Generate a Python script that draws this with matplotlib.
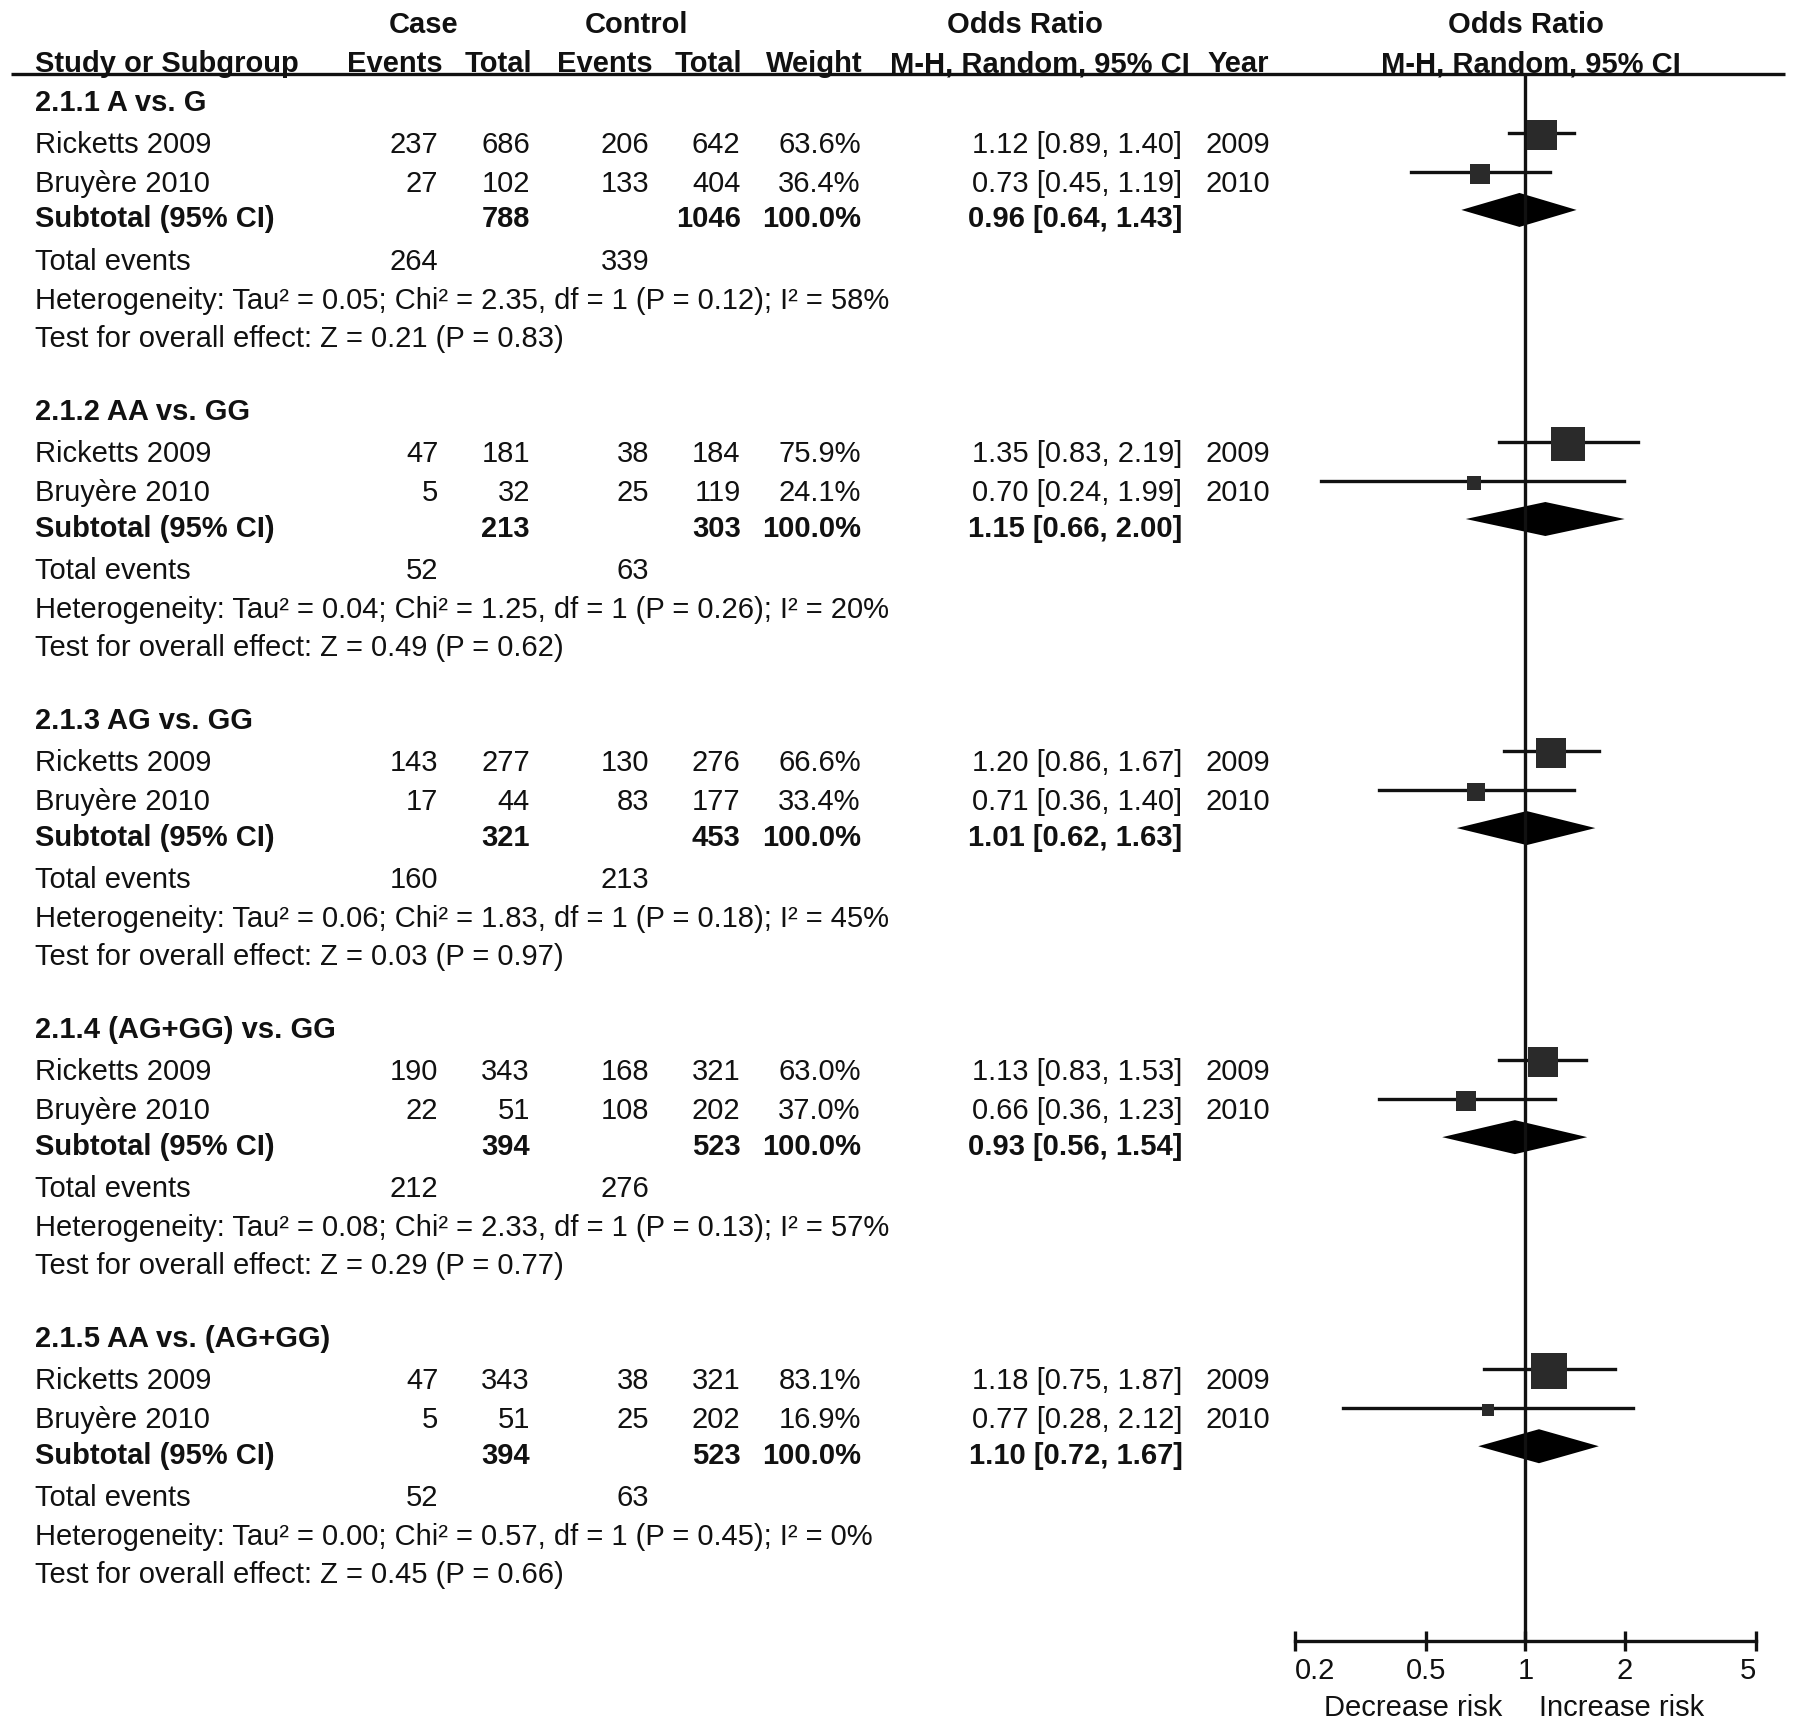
import matplotlib
matplotlib.use("Agg")
import matplotlib.pyplot as plt
import numpy as np

plt.rcParams['font.family'] = ['Liberation Sans', 'DejaVu Sans']

# data
groups = ['2.1.1 A vs. G', '2.1.2 AA vs. GG', '2.1.3 AG vs. GG',
          '2.1.4 (AG+GG) vs. GG', '2.1.5 AA vs. (AG+GG)']
studies = ['Ricketts 2009', 'Bruyère 2010']
years = [2009, 2010]
case_events = [[237, 27], [47, 5], [143, 17], [190, 22], [47, 5]]
case_total = [[686, 102], [181, 32], [277, 44], [343, 51], [343, 51]]
ctrl_events = [[206, 133], [38, 25], [130, 83], [168, 108], [38, 25]]
ctrl_total = [[642, 404], [184, 119], [276, 177], [321, 202], [321, 202]]
weights = [[63.6, 36.4], [75.9, 24.1], [66.6, 33.4], [63.0, 37.0], [83.1, 16.9]]
or_est = [[1.12, 0.73], [1.35, 0.70], [1.20, 0.71], [1.13, 0.66], [1.18, 0.77]]
or_lo = [[0.89, 0.45], [0.83, 0.24], [0.86, 0.36], [0.83, 0.36], [0.75, 0.28]]
or_hi = [[1.40, 1.19], [2.19, 1.99], [1.67, 1.40], [1.53, 1.23], [1.87, 2.12]]
sub_case_total = [788, 213, 321, 394, 394]
sub_ctrl_total = [1046, 303, 453, 523, 523]
sub_or = [0.96, 1.15, 1.01, 0.93, 1.10]
sub_lo = [0.64, 0.66, 0.62, 0.56, 0.72]
sub_hi = [1.43, 2.00, 1.63, 1.54, 1.67]
tot_case_events = [264, 52, 160, 212, 52]
tot_ctrl_events = [339, 63, 213, 276, 63]
tau2 = ['0.05', '0.04', '0.06', '0.08', '0.00']
chi2 = ['2.35', '1.25', '1.83', '2.33', '0.57']
het_p = ['0.12', '0.26', '0.18', '0.13', '0.45']
i2 = [58, 20, 45, 57, 0]
z_val = ['0.21', '0.49', '0.03', '0.29', '0.45']
z_p = ['0.83', '0.62', '0.97', '0.77', '0.66']
ticks = [0.2, 0.5, 1, 2, 5]
tick_labels = ['0.2', '0.5', '1', '2', '5']

W, H = 1795, 1729
S = 1.1447  # layout measured on a 1568 px wide view of the figure
fig = plt.figure(figsize=(W / 100, H / 100), dpi=100)
fs = 21
ink = '#111111'

# background axes in pixel units for the table text
bg = fig.add_axes([0, 0, 1, 1])
bg.set_xlim(0, W)
bg.set_ylim(H, 0)
bg.axis('off')

def txt(x, y, s, ha='left', bold=False):
    bg.text(x * S, y * S + 10, s, ha=ha, va='baseline', fontsize=fs,
            fontweight='bold' if bold else 'normal', color=ink)

# column positions
x_name = 31
x_ce, x_ct, x_oe, x_ot, x_w = 383, 463, 567, 647, 752
x_or, x_year = 1033, 1053
fx0, fx1 = 1131 * S, 1534 * S
y_rule, y_axis = 65 * S, 1641

# headers
for x, s in [(370, 'Case'), (556, 'Control'), (895, 'Odds Ratio'), (1333, 'Odds Ratio')]:
    txt(x, 20, s, ha='center', bold=True)
for x, s, ha in [(x_name, 'Study or Subgroup', 'left'), (345, 'Events', 'center'),
                 (435, 'Total', 'center'), (528, 'Events', 'center'),
                 (619, 'Total', 'center'), (711, 'Weight', 'center'),
                 (908, 'M-H, Random, 95% CI', 'center'), (1082, 'Year', 'center'),
                 (1337, 'M-H, Random, 95% CI', 'center')]:
    bg.text(x * S, y_rule - 2, s, ha=ha, va='baseline', fontsize=fs,
            fontweight='bold', color=ink)
bg.plot([10 * S, 1785], [y_rule, y_rule], color=ink, lw=2.4, solid_capstyle='butt')

# forest axes
ax = fig.add_axes([fx0 / W, 1 - y_axis / H, (fx1 - fx0) / W, (y_axis - y_rule) / H])
ax.set_xscale('log')
ax.set_xlim(0.2, 5)
ax.set_ylim(y_axis, y_rule)
ax.patch.set_alpha(0)
for sp in ['top', 'left', 'right']:
    ax.spines[sp].set_visible(False)
ax.spines['bottom'].set_linewidth(2.4)
ax.spines['bottom'].set_color(ink)
ax.set_yticks([])
ax.set_xticks(ticks)
ax.set_xticklabels(tick_labels)
ax.minorticks_off()
ax.tick_params(axis='x', direction='inout', length=14.4, width=2.4, pad=4,
               labelsize=fs, colors=ink)
labs = ax.get_xticklabels()
labs[0].set_ha('left')
labs[-1].set_ha('right')
ax.axvline(1, color=ink, lw=2.4)
ax.annotate('Decrease risk', xy=(1, 0), xycoords=('data', 'axes fraction'),
            xytext=(-16.5, -54), textcoords='offset points', ha='right', va='baseline',
            fontsize=fs, color=ink)
ax.annotate('Increase risk', xy=(1, 0), xycoords=('data', 'axes fraction'),
            xytext=(9.5, -54), textcoords='offset points', ha='left', va='baseline',
            fontsize=fs, color=ink)

offs = [0, 37, 71, 102, 139, 173, 206]
for g in range(len(groups)):
    y0 = 88 + g * 270
    txt(x_name, y0, groups[g], bold=True)
    for i in range(2):
        y = y0 + offs[1 + i]
        txt(x_name, y, studies[i])
        txt(x_ce, y, str(case_events[g][i]), ha='right')
        txt(x_ct, y, str(case_total[g][i]), ha='right')
        txt(x_oe, y, str(ctrl_events[g][i]), ha='right')
        txt(x_ot, y, str(ctrl_total[g][i]), ha='right')
        txt(x_w, y, f'{weights[g][i]:.1f}%', ha='right')
        txt(x_or, y, f'{or_est[g][i]:.2f} [{or_lo[g][i]:.2f}, {or_hi[g][i]:.2f}]', ha='right')
        txt(x_year, y, str(years[i]))
        yp = (y - 8.7) * S
        ax.plot([or_lo[g][i], or_hi[g][i]], [yp, yp], color=ink, lw=2.4)
        side = 5.7 + 0.373 * weights[g][i]  # square side in pixels
        ax.plot([or_est[g][i]], [yp + 2], marker='s', ms=side * 0.72,
                color='#2a2a2a', mec='#2a2a2a', mew=0)
    y = y0 + offs[3]
    txt(x_name, y, 'Subtotal (95% CI)', bold=True)
    txt(x_ct, y, str(sub_case_total[g]), ha='right', bold=True)
    txt(x_ot, y, str(sub_ctrl_total[g]), ha='right', bold=True)
    txt(x_w, y, '100.0%', ha='right', bold=True)
    txt(x_or, y, f'{sub_or[g]:.2f} [{sub_lo[g]:.2f}, {sub_hi[g]:.2f}]', ha='right', bold=True)
    yd = (y - 6.6) * S
    ax.fill([sub_lo[g], sub_or[g], sub_hi[g], sub_or[g]], [yd, yd - 17, yd, yd + 17],
            color='black', lw=0)
    y = y0 + offs[4]
    txt(x_name, y, 'Total events')
    txt(x_ce, y, str(tot_case_events[g]), ha='right')
    txt(x_oe, y, str(tot_ctrl_events[g]), ha='right')
    txt(x_name, y0 + offs[5],
        f'Heterogeneity: Tau² = {tau2[g]}; Chi² = {chi2[g]}, df = 1 (P = {het_p[g]}); I² = {i2[g]}%')
    txt(x_name, y0 + offs[6], f'Test for overall effect: Z = {z_val[g]} (P = {z_p[g]})')

fig.savefig('out.png', dpi=100, facecolor='white')
